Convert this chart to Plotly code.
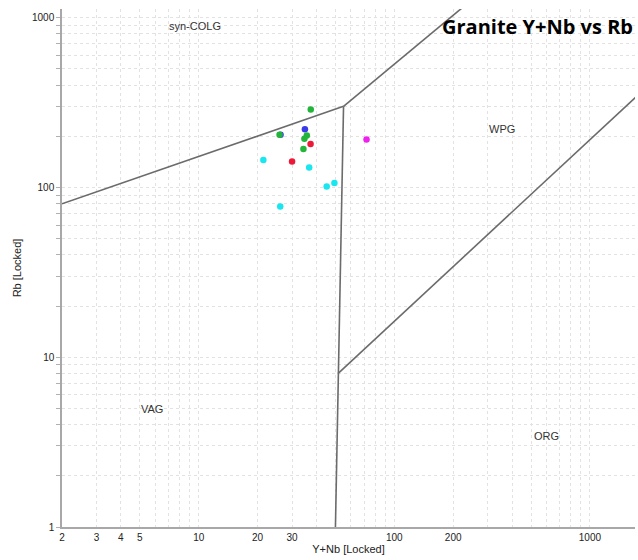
import plotly.graph_objects as go
import numpy as np

# Sample data (Y+Nb, Rb) grouped by colour
green_x = [37.4, 25.9, 35.7, 34.7, 34.3]
green_y = [287, 204, 202, 193, 168]
blue_x = [34.9, 26.2]
blue_y = [220, 204]
red_x = [37.3, 30.0]
red_y = [180, 142]
magenta_x = [72.1]
magenta_y = [191]
cyan_x = [21.4, 36.7, 49.4, 45.1, 26.1]
cyan_y = [145, 131, 106, 101, 77]

# Pearce (1984) field boundaries
b1_x = [2, 55]; b1_y = [80, 300]
b2_x = [55, 400]; b2_y = [300, 2000]
b3_x = [55, 51.5, 50]; b3_y = [300, 8, 1]
b4_x = [51.5, 2000]; b4_y = [8, 400]

x_tick_vals = [2, 3, 4, 5, 10, 20, 30, 100, 200, 1000]
y_tick_vals = [1, 10, 100, 1000]

fig = go.Figure()
line_style = dict(color="#6b6b6b", width=1.6)
for bx, by in [(b1_x, b1_y), (b2_x, b2_y), (b3_x, b3_y), (b4_x, b4_y)]:
    fig.add_trace(go.Scatter(x=bx, y=by, mode="lines", line=line_style,
                             showlegend=False, hoverinfo="skip"))

series = [
    (cyan_x, cyan_y, "#19e6ee"),
    (blue_x, blue_y, "#3a3ae8"),
    (green_x, green_y, "#22b53a"),
    (red_x, red_y, "#ee1838"),
    (magenta_x, magenta_y, "#ee22ee"),
]
for sx, sy, c in series:
    fig.add_trace(go.Scatter(x=sx, y=sy, mode="markers",
                             marker=dict(color=c, size=6.5, line=dict(width=0)),
                             showlegend=False))

# all grid positions
def grid_vals(lo, hi):
    out = []
    for d in range(lo, hi):
        for m in range(1, 10):
            out.append(m * 10 ** d)
    return out

xg = [v for v in grid_vals(0, 4) if v >= 2 and v <= 1700]
yg = [v for v in grid_vals(0, 4) if v >= 1 and v <= 1000]

def labels(vals, keep):
    return [str(v) if v in keep else "" for v in vals]

axis_common = dict(
    type="log", showgrid=True, gridcolor="#e2e2e2", griddash="dot", gridwidth=1,
    showline=True, linecolor="#a8a8a8", linewidth=1.5, zeroline=False,
    tickfont=dict(family="Liberation Sans, Arial", size=10, color="#222"),
    mirror=False,
)

fig.update_layout(
    width=638, height=560,
    margin=dict(l=62, r=3, t=9, b=33),
    paper_bgcolor="white", plot_bgcolor="white",
    xaxis=dict(axis_common, range=[np.log10(2), np.log10(1700)],
               ticks="", 
               tickmode="array", tickvals=xg, ticktext=labels(xg, x_tick_vals),
               title=dict(text="Y+Nb [Locked]", standoff=4,
                          font=dict(family="Liberation Sans, Arial", size=11, color="#222"))),
    yaxis=dict(axis_common, range=[0, 3.05],
               ticks="outside", ticklen=4, tickcolor="#b0b0b0",
               tickmode="array", tickvals=yg, ticktext=labels(yg, y_tick_vals),
               title=dict(text="Rb [Locked]", standoff=8,
                          font=dict(family="Liberation Sans, Arial", size=11, color="#222"))),
)

lab_font = dict(family="Liberation Sans, Arial", size=11, color="#333")
for txt, px, py in [("syn-COLG", 0.232, 0.967), ("WPG", 0.768, 0.768),
                    ("VAG", 0.157, 0.228), ("ORG", 0.845, 0.176)]:
    fig.add_annotation(x=px, y=py, xref="paper", yref="paper", text=txt,
                       xanchor="center", yanchor="middle",
                       showarrow=False, font=lab_font)

fig.add_annotation(x=1.0, y=0.967, xref="paper", yref="paper", xanchor="right",
                   yanchor="middle",
                   text="<b>Granite Y+Nb vs Rb</b>", showarrow=False,
                   font=dict(family="Open Sans, Lato", size=20, color="black"))

fig.write_html("out.html")
